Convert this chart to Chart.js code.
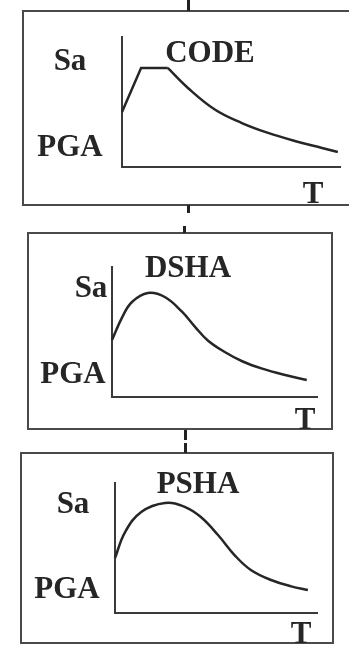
<!DOCTYPE html>
<html>
<head>
<meta charset="utf-8">
<script src="https://cdn.jsdelivr.net/npm/chart.js@4.4.1/dist/chart.umd.min.js"></script>
<style>
  html, body { margin: 0; padding: 0; background: #fff; }
  body { position: relative; width: 349px; height: 646px; overflow: hidden; }
  canvas { position: absolute; left: 0; }
  .box  { position: absolute; box-sizing: border-box; border: 2px solid #4a4a4a; }
  .tick { position: absolute; width: 3px; background: #222; }
</style>
</head>
<body>
<!-- рамки панелей и соединительные штрихи -->
<div class="box" style="left:22px;top:10px;width:340px;height:196px"></div>
<div class="box" style="left:27px;top:232px;width:306px;height:198px"></div>
<div class="box" style="left:20px;top:452px;width:314px;height:192px"></div>
<div class="tick" style="left:187px;top:0;height:11px"></div>
<div class="tick" style="left:187px;top:205px;height:8px"></div>
<div class="tick" style="left:183px;top:226px;height:7px"></div>
<div class="tick" style="left:184px;top:430px;height:10px"></div>
<div class="tick" style="left:184px;top:443px;height:10px"></div>

<canvas id="code" width="349" height="215" style="top:0"></canvas>
<canvas id="dsha" width="349" height="218" style="top:215px"></canvas>
<canvas id="psha" width="349" height="213" style="top:433px"></canvas>

<script>
// ── Данные (период T, спектральное ускорение Sa; условные единицы) ─────────
const codeRampT   = [0, 0.35, 0.84];
const codeRampSa  = [0.423, 0.762, 0.762];
const codeDecayT  = [0.84, 1.21, 1.71, 2.2, 2.68, 3.17, 3.67, 3.96];
const codeDecaySa = [0.762, 0.608, 0.44, 0.338, 0.262, 0.2, 0.146, 0.115];

const dshaT  = [0, 0.2, 0.39, 0.7, 1.03, 1.37, 1.62, 1.87, 2.2, 2.54, 2.93, 3.38, 3.8];
const dshaSa = [0.438, 0.615, 0.731, 0.8, 0.769, 0.654, 0.54, 0.435, 0.346, 0.275, 0.218, 0.169, 0.131];

const pshaT  = [0, 0.2, 0.52, 0.99, 1.39, 1.7, 2.04, 2.38, 2.69, 3.09, 3.49, 3.82];
const pshaSa = [0.423, 0.623, 0.777, 0.846, 0.815, 0.738, 0.6, 0.44, 0.331, 0.254, 0.205, 0.177];

const panelTitles = ['CODE', 'DSHA', 'PSHA'];
const yLabels     = ['Sa', 'PGA'];
const xLabel      = 'T';

const INK   = '#262626';
const AXIS  = '#3a3a3a';
const FONT  = "bold 31px 'Liberation Serif', 'Times New Roman', serif";

const toPoints = (xs, ys) => xs.map((x, i) => ({ x, y: ys[i] }));

// ── Плагин подписей: заголовок, Sa, PGA, T ─────────────────────────────────
const labelPlugin = {
  id: 'panelLabels',
  afterDraw(chart) {
    const opts = chart.options.plugins.panelLabels;
    if (!opts) return;
    const ctx = chart.ctx;
    ctx.save();
    ctx.font = FONT;
    ctx.fillStyle = INK;
    ctx.textAlign = 'center';
    ctx.textBaseline = 'alphabetic';
    opts.items.forEach(it => ctx.fillText(it.text, it.x, it.y));
    ctx.restore();
  },
};

function lineDs(points, smooth) {
  return {
    data: points,
    borderColor: INK,
    borderWidth: 2.5,
    pointRadius: 0,
    fill: false,
    tension: smooth ? 0.4 : 0,
    clip: false,
  };
}

function panel(canvasId, padding, datasets, items) {
  return new Chart(document.getElementById(canvasId), {
    type: 'line',
    data: { datasets },
    options: {
      responsive: false,
      animation: false,
      layout: { padding },
      scales: {
        x: {
          type: 'linear', min: 0, max: 4,
          grid: { display: false, drawTicks: false },
          ticks: { display: false },
          border: { display: true, color: AXIS, width: 2 },
        },
        y: {
          type: 'linear', min: 0, max: 1,
          grid: { display: false, drawTicks: false },
          ticks: { display: false },
          border: { display: true, color: AXIS, width: 2 },
        },
      },
      plugins: {
        legend: { display: false },
        tooltip: { enabled: false },
        panelLabels: { items },
      },
    },
    plugins: [labelPlugin],
  });
}

panel('code', { left: 122, top: 37, right: 9, bottom: 48 }, [
  lineDs(toPoints(codeRampT, codeRampSa), false),
  lineDs(toPoints(codeDecayT, codeDecaySa), true),
], [
  { text: panelTitles[0], x: 210, y: 62 },
  { text: yLabels[0],     x: 70,  y: 70 },
  { text: yLabels[1],     x: 70,  y: 156 },
  { text: xLabel,         x: 313, y: 203 },
]);

panel('dsha', { left: 112, top: 52, right: 32, bottom: 36 }, [
  lineDs(toPoints(dshaT, dshaSa), true),
], [
  { text: panelTitles[1], x: 188, y: 62 },
  { text: yLabels[0],     x: 91,  y: 82 },
  { text: yLabels[1],     x: 73,  y: 168 },
  { text: xLabel,         x: 305, y: 214 },
]);

panel('psha', { left: 115, top: 50, right: 32, bottom: 33 }, [
  lineDs(toPoints(pshaT, pshaSa), true),
], [
  { text: panelTitles[2], x: 198, y: 60 },
  { text: yLabels[0],     x: 73,  y: 80 },
  { text: yLabels[1],     x: 67,  y: 165 },
  { text: xLabel,         x: 301, y: 210 },
]);
</script>
</body>
</html>
